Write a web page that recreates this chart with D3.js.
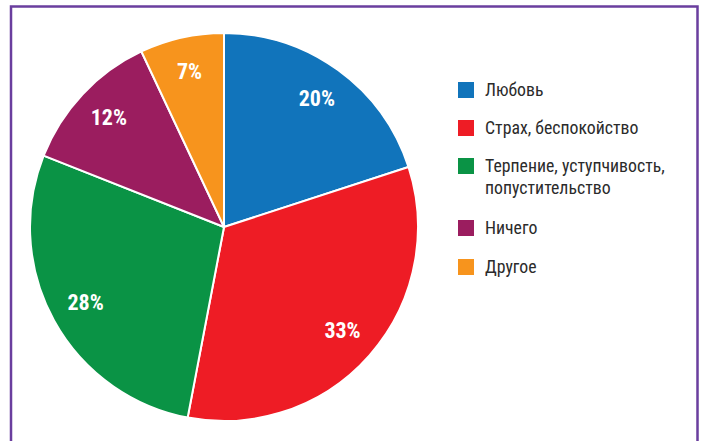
<!DOCTYPE html>
<html>
<head>
<meta charset="utf-8">
<script src="https://cdn.jsdelivr.net/npm/d3@7"></script>
<style>
  html, body { margin: 0; padding: 0; background: #fff; }
  svg { display: block; }
</style>
</head>
<body>
<svg id="chart" width="702" height="441"></svg>
<script>
// Ответы респондентов, %
const categories = ["Любовь", "Страх, беспокойство", "Терпение, уступчивость, попустительство", "Ничего", "Другое"];
const legendLines = [["Любовь"], ["Страх, беспокойство"], ["Терпение, уступчивость,", "попустительство"], ["Ничего"], ["Другое"]];
const values = [20, 33, 28, 12, 7];
const colors = ["#1174BB", "#EE1C25", "#0A9345", "#9B1D5F", "#F7941D"];

const FONT = "'Liberation Sans Narrow', 'Roboto Condensed', 'Roboto', sans-serif";
const svg = d3.select("#chart");

// frame
svg.append("path")
  .attr("d", "M11,445 L11,6.5 L697.5,6.5 L697.5,445")
  .attr("fill", "none")
  .attr("stroke", "#6A3E9E")
  .attr("stroke-width", 2.5);

const cx = 224, cy = 227, R = 194;
const pie = d3.pie().sort(null).value(d => d.value);
const arcs = pie(categories.map((c, i) => ({ name: c, value: values[i], color: colors[i] })));
const arc = d3.arc().innerRadius(0).outerRadius(R);
const labelArc = d3.arc().innerRadius(158).outerRadius(158);

const g = svg.append("g").attr("transform", `translate(${cx},${cy})`);
g.selectAll("path.slice")
  .data(arcs)
  .join("path")
  .attr("class", "slice")
  .attr("d", arc)
  .attr("fill", d => d.data.color)
  .attr("stroke", "#fff")
  .attr("stroke-width", 2)
  .attr("stroke-linejoin", "round");

g.selectAll("text.pct")
  .data(arcs)
  .join("text")
  .attr("class", "pct")
  .attr("transform", d => `translate(${labelArc.centroid(d)})`)
  .attr("text-anchor", "middle")
  .attr("dy", "0.3em")
  .attr("fill", "#fff")
  .attr("font-family", FONT)
  .attr("font-weight", "bold")
  .attr("font-size", 22)
  .text(d => d.data.value + "%");

// legend
const legendY = [90, 128, 166, 228, 267];
const lg = svg.append("g");
legendLines.forEach((lines, i) => {
  lg.append("rect")
    .attr("x", 458).attr("y", legendY[i] - 8)
    .attr("width", 16).attr("height", 16)
    .attr("fill", colors[i]);
  const t = lg.append("text")
    .attr("x", 485).attr("y", legendY[i] + 6)
    .attr("font-family", FONT)
    .attr("font-size", 17.8)
    .attr("fill", "#2b2b2b");
  lines.forEach((ln, j) => {
    t.append("tspan").attr("x", 485).attr("dy", j === 0 ? 0 : 22).text(ln);
  });
});
</script>
</body>
</html>
